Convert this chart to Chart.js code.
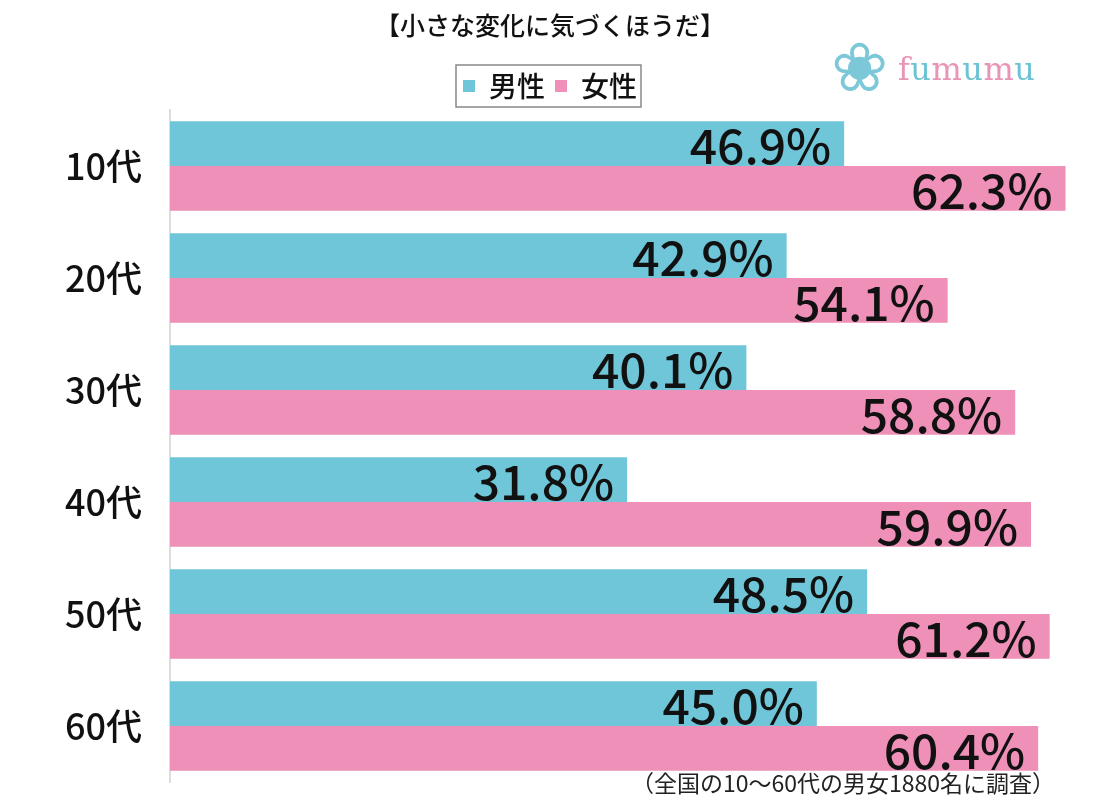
<!DOCTYPE html>
<html>
<head>
<meta charset="utf-8">
<script src="https://cdn.jsdelivr.net/npm/chart.js@4"></script>
<style>
  html, body { margin: 0; padding: 0; background: #fff; }
  #wrap { position: relative; width: 1102px; height: 800px; }
  #flower { position: absolute; left: 831px; top: 28px; font-family: "DejaVu Sans", sans-serif; font-size: 68px; line-height: 80px; color: #7cc8d8; }
  #logo { position: absolute; left: 898px; top: 49px; font-family: "DejaVu Serif", "Liberation Serif", serif; font-size: 32px; line-height: 40px; letter-spacing: 0.5px; }
  #logo .p { color: #e995b6; }
  #logo .c { color: #6cc3d3; }
</style>
</head>
<body>
<div id="wrap">
  <canvas id="myChart" width="1102" height="800"></canvas>
  <div id="flower">❀</div>
  <div id="logo"><span class="p">f</span><span class="c">u</span><span class="p">m</span><span class="c">u</span><span class="p">m</span><span class="c">u</span></div>
</div>
<script>
// データ
const categories = ['10代', '20代', '30代', '40代', '50代', '60代'];
const maleValues = [46.9, 42.9, 40.1, 31.8, 48.5, 45.0];
const femaleValues = [62.3, 54.1, 58.8, 59.9, 61.2, 60.4];
const seriesNames = ['男性', '女性'];
const titleText = '【小さな変化に気づくほうだ】';
const noteText = '（全国の10～60代の男女1880名に調査）';

const FONT = '"Noto Sans CJK JP", "Noto Sans", sans-serif';

// 棒の右端に数値を書く
const valueLabels = {
  id: 'valueLabels',
  afterDatasetsDraw(chart) {
    const ctx = chart.ctx;
    ctx.save();
    ctx.font = '500 48px ' + FONT;
    ctx.fillStyle = '#111';
    ctx.textAlign = 'right';
    ctx.textBaseline = 'middle';
    chart.data.datasets.forEach((ds, i) => {
      chart.getDatasetMeta(i).data.forEach((bar, j) => {
        ctx.fillText(ds.data[j].toFixed(1) + '%', bar.x - 13, bar.y + 2);
      });
    });
    ctx.restore();
  }
};

// 凡例の枠と注記
const extras = {
  id: 'extras',
  afterDraw(chart) {
    const ctx = chart.ctx;
    const boxes = chart.legend.legendHitBoxes;
    if (boxes && boxes.length) {
      const l = Math.min(...boxes.map(b => b.left)) - 7;
      const r = Math.max(...boxes.map(b => b.left + b.width)) + 4;
      const t = Math.min(...boxes.map(b => b.top)) - 7;
      const bt = Math.max(...boxes.map(b => b.top + b.height)) + 7;
      ctx.save();
      ctx.strokeStyle = '#888';
      ctx.lineWidth = 1.5;
      ctx.strokeRect(l, t, r - l, bt - t);
      ctx.restore();
    }
    ctx.save();
    ctx.font = '23px ' + FONT;
    ctx.fillStyle = '#222';
    ctx.textAlign = 'right';
    ctx.textBaseline = 'middle';
    ctx.fillText(noteText, 1055, 783);
    ctx.restore();
  }
};

const ctx = document.getElementById('myChart');
new Chart(ctx, {
  type: 'bar',
  data: {
    labels: categories,
    datasets: [{
      label: seriesNames[0],
      data: maleValues,
      backgroundColor: '#70c6d9',
      categoryPercentage: 0.8,
      barPercentage: 1.0
    }, {
      label: seriesNames[1],
      data: femaleValues,
      backgroundColor: '#ee90b7',
      categoryPercentage: 0.8,
      barPercentage: 1.0
    }]
  },
  options: {
    indexAxis: 'y',
    responsive: false,
    animation: false,
    layout: { padding: { left: 0, right: 2, top: 2, bottom: 0 } },
    plugins: {
      title: {
        display: true,
        text: titleText,
        color: '#111',
        font: { family: FONT, size: 25, weight: '500' },
        padding: { top: 0, bottom: 22 }
      },
      legend: {
        display: true,
        labels: {
          color: '#111',
          boxWidth: 12,
          boxHeight: 12,
          padding: 10,
          font: { family: FONT, size: 28, weight: '500' }
        }
      },
      tooltip: { enabled: false }
    },
    scales: {
      x: {
        min: 0,
        max: 64.7,
        display: false,
        grid: { display: false }
      },
      y: {
        // 軸の幅とプロット領域の上下を固定
        afterFit(scale) {
          scale.width = 170;
          scale.paddingTop = 110;
          scale.paddingBottom = 18;
        },
        grid: { display: false, drawTicks: false },
        border: { display: true, color: '#ddd', width: 2 },
        ticks: {
          color: '#111',
          padding: 28,
          font: { family: FONT, size: 36, weight: '500' }
        }
      }
    }
  },
  plugins: [valueLabels, extras]
});
</script>
</body>
</html>
